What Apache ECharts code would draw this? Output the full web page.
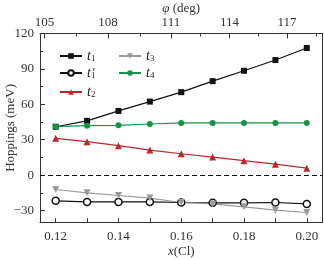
<!DOCTYPE html>
<html><head><meta charset="utf-8">
<script src="https://cdn.jsdelivr.net/npm/echarts@6/dist/echarts.min.js"></script>
<style>html,body{margin:0;padding:0;background:#fff}#c{width:324px;height:260px}</style>
</head><body><div id="c"></div>
<script>
var xCl = [0.12, 0.13, 0.14, 0.15, 0.16, 0.17, 0.18, 0.19, 0.20];
var t1  = [41, 46, 54.4, 62.3, 70.3, 79.6, 88.4, 97.5, 107.7];
var t1p = [-21.8, -22.7, -22.7, -22.7, -23.2, -23.5, -23.5, -23.2, -24.4];
var t2  = [31.2, 28.3, 24.9, 21.2, 18.1, 15.3, 12.2, 9.3, 5.9];
var t3  = [-12.2, -15, -17.3, -19.5, -23.2, -24.4, -26.9, -29.7, -31.7];
var t4  = [41, 41.9, 42.2, 43.3, 44.2, 44.2, 44.2, 44.2, 44.2];
var xTicks = [0.12, 0.14, 0.16, 0.18, 0.20];
var xMinorTicks = [0.13, 0.15, 0.17, 0.19];
var yTicks = [-30, 0, 30, 60, 90, 120];
var yMinorTicks = [-15, 15, 45, 75, 105];
var phiLabels = [105, 108, 111, 114, 117];
var phiAtX = [0.1164, 0.1367, 0.1567, 0.1754, 0.1937];
var phiMinorAtX = [0.1265, 0.1468, 0.1661, 0.1844, 0.2030];

var F = '"Liberation Serif", "DejaVu Serif", serif';
var C = {t1:'#111111', t1p:'#111111', t2:'#b8282e', t3:'#9a9a9a', t4:'#159447'};
var X0 = 0.115, X1 = 0.205, Y0 = -40, Y1 = 120;
function mk(name, data, color, symbol, size, fill) {
  return {
    name: name, type: 'line', xAxisIndex: 0, yAxisIndex: 0,
    data: xCl.map(function (x, i) { return [x, data[i]]; }),
    symbol: symbol, symbolSize: size, showAllSymbol: true,
    lineStyle: {color: color, width: 1.2},
    itemStyle: {color: fill || color, borderColor: color, borderWidth: fill ? 1.5 : 0, opacity: 1},
    emphasis: {disabled: true}, animation: false, z: 3
  };
}
var rich = {
  i: {fontFamily: F, fontStyle: 'italic', fontSize: 14, color: '#222', lineHeight: 14},
  s: {fontFamily: F, fontSize: 9, color: '#222', verticalAlign: 'bottom', lineHeight: 14, padding: [6, 0, 0, 0]},
  p: {fontFamily: F, fontSize: 13, color: '#222', verticalAlign: 'top', lineHeight: 12, padding: [0, 0, 3, -3]}
};
var labels = {
  't1': '{i|t}{s|1}', "t1'": '{i|t}{s|1}{p|\u2032}', 't2': '{i|t}{s|2}', 't3': '{i|t}{s|3}', 't4': '{i|t}{s|4}'
};
function lg(names, left) {
  return {
    data: names, orient: 'vertical', left: left, top: 48, itemWidth: 22, itemHeight: 7, itemGap: 2,
    selectedMode: false, padding: 0,
    formatter: function (n) { return labels[n]; },
    textStyle: {rich: rich, fontFamily: F}
  };
}
var chart = echarts.init(document.getElementById('c'), null, {renderer: 'canvas'});
var neg = function (v) { return v < 0 ? '\u2212' + (-v) : '' + v; };
var nameRich = {i: {fontFamily: F, fontStyle: 'italic', fontSize: 13, color: '#333'}};
chart.setOption({
  animation: false,
  textStyle: {fontFamily: F},
  grid: {left: 40, right: 1.5, top: 33.5, bottom: 37.7, containLabel: false, outerBoundsMode: 'none'},
  legend: [lg(['t1', "t1'", 't2'], 59), lg(['t3', 't4'], 118)],
  xAxis: [
    {type: 'value', position: 'bottom', min: X0, max: X1,
     name: '{i|x}(Cl)', nameLocation: 'middle', nameGap: 23, nameMoveOverlap: false,
     nameTextStyle: {fontFamily: F, fontSize: 13, color: '#333', rich: nameRich},
     axisLine: {onZero: false, lineStyle: {color: '#333', width: 1}},
     axisTick: {inside: true, length: 4, customValues: xTicks.concat(xMinorTicks), lineStyle: {color: '#333'}},
     axisLabel: {customValues: xTicks, fontFamily: F, fontSize: 13, color: '#333', margin: 8,
                 formatter: function (v) { return v.toFixed(2); }},
     splitLine: {show: false}},
    {type: 'value', position: 'top', min: X0, max: X1,
     name: '{i|φ} (deg)', nameLocation: 'middle', nameGap: 18, nameMoveOverlap: false,
     nameTextStyle: {fontFamily: F, fontSize: 13, color: '#333', rich: nameRich},
     axisLine: {onZero: false, lineStyle: {color: '#333', width: 1}},
     axisTick: {inside: true, length: 5, customValues: phiAtX, lineStyle: {color: '#333'}},
     axisLabel: {customValues: phiAtX, fontFamily: F, fontSize: 13, color: '#333', margin: 4,
                 formatter: function (v) {
                   var best = 0; for (var i = 0; i < phiAtX.length; i++) if (Math.abs(phiAtX[i] - v) < Math.abs(phiAtX[best] - v)) best = i;
                   return '' + phiLabels[best]; }},
     splitLine: {show: false}},
    {type: 'value', position: 'top', min: X0, max: X1, show: true,
     axisLine: {show: false, onZero: false}, axisLabel: {show: false}, splitLine: {show: false},
     axisTick: {inside: true, length: 3, customValues: phiMinorAtX, lineStyle: {color: '#333'}}}
  ],
  yAxis: [
    {type: 'value', position: 'left', min: Y0, max: Y1,
     name: 'Hoppings (meV)', nameLocation: 'middle', nameGap: 23, nameRotate: 90, nameMoveOverlap: false,
     nameTextStyle: {fontFamily: F, fontSize: 13, color: '#333'},
     axisLine: {onZero: false, lineStyle: {color: '#333', width: 1}},
     axisTick: {inside: true, length: 5, customValues: yTicks, lineStyle: {color: '#333'}},
     axisLabel: {customValues: yTicks, fontFamily: F, fontSize: 13, color: '#333', margin: 6, formatter: neg},
     splitLine: {show: false}},
    {type: 'value', position: 'left', min: Y0, max: Y1,
     axisLine: {show: false, onZero: false}, axisLabel: {show: false}, splitLine: {show: false},
     axisTick: {inside: true, length: 3, customValues: yMinorTicks, lineStyle: {color: '#333'}}},
    {type: 'value', position: 'right', min: Y0, max: Y1,
     axisLine: {show: true, onZero: false, lineStyle: {color: '#333', width: 1}}, axisLabel: {show: false},
     axisTick: {show: false}, splitLine: {show: false}}
  ],
  series: [
    Object.assign(mk('t1', t1, C.t1, 'rect', 6), {
      markLine: {silent: true, symbol: 'none', label: {show: false}, animation: false,
                 lineStyle: {color: '#111', type: [5, 3], width: 1.2}, data: [{yAxis: 0}]}}),
    mk("t1'", t1p, C.t1p, 'circle', 7, '#ffffff'),
    mk('t2', t2, C.t2, 'triangle', 7),
    mk('t3', t3, C.t3, 'path://M0,0L10,0L5,9Z', 7),
    mk('t4', t4, C.t4, 'circle', 6)
  ]
});
</script></body></html>
